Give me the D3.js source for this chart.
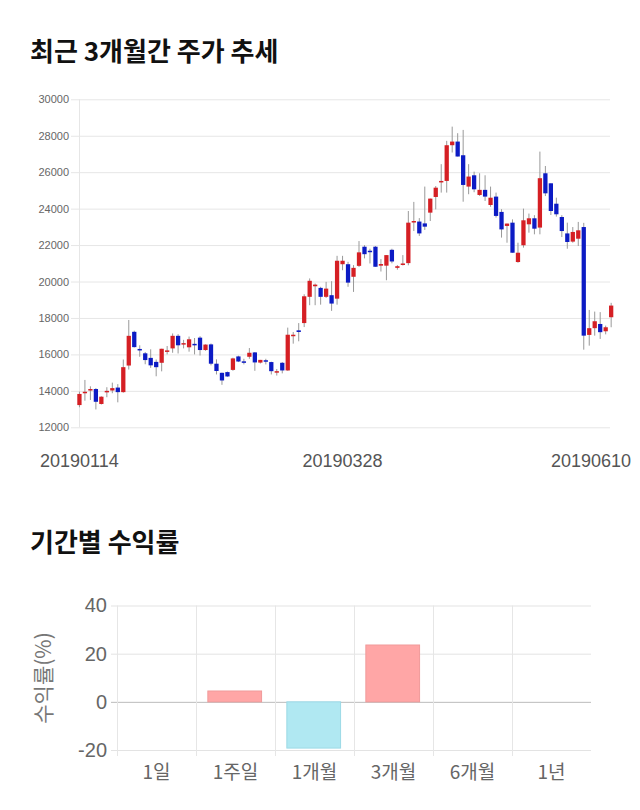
<!DOCTYPE html>
<html>
<head>
<meta charset="utf-8">
<script src="https://cdn.jsdelivr.net/npm/d3@7"></script>
<style>
body { margin: 0; background: #fff; }
.title { font-family: "Noto Sans CJK KR", sans-serif; font-weight: bold; font-size: 26px; fill: #111; }
</style>
</head>
<body>
<script>
// daily candles, index 0 = 20190114
var opens  = [13220,13900,14080,14100,13280,13980,14020,14180,13930,15390,17240,16300,16060,15810,15590,15540,16200,16330,17020,16600,
              16390,16580,16920,16240,16550,15490,14990,15030,15150,15890,15620,15870,16110,15550,15680,15580,15030,15540,15120,17060,
              17320,17720,19160,19740,19650,19160,19250,19060,20950,20950,20260,20860,21910,21690,21910,20870,20870,21740,20750,20960,
              21010,23280,23290,23190,23780,24640,25480,25520,27480,27680,26930,25210,25830,24750,25030,24200,24660,23820,23050,23230,
              21070,21990,23140,23470,22960,25940,25390,24270,23540,22640,22190,22350,22990,17070,17440,17670,17270,18040];
var highs  = [13960,14600,14250,14150,13700,14200,14450,14370,15720,17890,17300,16500,16130,16280,15720,16310,16460,17150,17110,16800,
              16980,16900,17000,16550,16600,15730,15000,15060,15820,15930,15760,16350,16130,15700,15760,15600,15200,15580,17470,17230,
              17720,19300,20170,19890,19710,19980,20020,21410,21410,21080,20900,22220,22000,21800,21950,21230,21450,21800,20900,21450,
              23870,24370,23480,25210,24550,25240,26440,27720,28500,28140,28320,26440,26030,25940,25830,25210,24880,23970,23180,23410,
              22130,24000,23730,23640,27130,26340,25390,24600,23640,23230,22990,23270,23220,18440,18350,18320,17580,18830];
var lows   = [13100,13460,13500,12980,13250,13650,13870,13370,13900,15170,16380,15870,15460,15260,14800,15070,16000,16090,16050,16330,
              16150,16000,15940,16200,15400,14900,14330,14770,15100,15580,15450,15760,15100,15500,15450,14900,14840,14960,15100,16590,
              16720,17500,18700,18700,18730,19100,18390,18730,20620,19710,19430,20800,21270,20990,20810,20550,20070,21000,20650,20880,
              20890,22770,22500,22830,23320,23960,24880,24880,27080,26860,24380,24790,24900,24700,24420,24100,23510,22410,22130,21580,
              21030,21860,22680,22590,22590,24690,23650,23560,22440,21800,22130,21950,16260,16480,17030,16850,17100,17490];
var closes = [13830,13950,14100,13400,13680,14000,14150,13930,15300,17020,16400,16280,15690,15400,15300,16310,16220,17020,16500,16620,
              16830,16570,16240,16540,15490,15090,14570,14790,15780,15610,15600,16090,15560,15700,15670,15080,15080,15120,17080,17080,
              17230,19190,20040,19830,19160,19610,18790,21140,21140,19940,20750,21600,21500,21670,20810,20960,21450,21100,20840,20990,
              23230,23320,22640,23010,24550,25150,25520,27480,27680,26860,25300,25760,25060,25030,24660,24600,23600,22860,23180,21580,
              21580,23360,23470,22900,25670,24840,23870,23690,22770,22170,22720,22810,17030,17440,17820,17220,17490,18680];
var priceTicks = [12000,14000,16000,18000,20000,22000,24000,26000,28000,30000];
var dateLabels = ["20190114","20190328","20190610"];
var dateIndex  = [0, 48, 97];

// period returns
var periods = ["1일","1주일","1개월","3개월","6개월","1년"];
var returns = [0, 4.5, -19.2, 23.6, 0, 0];
var returnTicks = [-20, 0, 20, 40];

var w = 640, h = 810;
var svg = d3.select("body").append("svg")
    .attr("width", w)
    .attr("height", h);

// ---------- candle chart ----------
svg.append("text").attr("class", "title")
    .attr("x", 30).attr("y", 61)
    .text("최근 3개월간 주가 추세");

var x = d3.scaleBand()
    .domain(d3.range(opens.length))
    .range([77.3, 613.3])
    .paddingInner(0.22);

var y = d3.scaleLinear()
    .domain([12000, 30000])
    .range([427.3, 99.3]);

//horizontal grid
svg.append("g")
    .attr("transform", "translate(79,0)")
    .call(d3.axisLeft(y).tickValues(priceTicks).tickSize(-531).tickPadding(10).tickFormat(d3.format("d")))
    .call(function(g){
        g.select(".domain").remove();
        g.selectAll(".tick line").attr("stroke", "#e6e6e6").attr("x1", -8);
        g.selectAll(".tick text").attr("fill", "#666").style("font-family", "Liberation Sans, Arial, sans-serif").style("font-size", "11px");
    });

//vertical axis line
svg.append("line")
    .attr("x1", 79.5).attr("x2", 79.5)
    .attr("y1", y(30000)).attr("y2", y(12000))
    .attr("stroke", "#e6e6e6");

var candles = svg.append("g").selectAll("g")
    .data(opens.map(function(o, i){
        return {i: i, o: o, h: highs[i], l: lows[i], c: closes[i]};
    }))
    .enter().append("g");

//wicks
candles.append("line")
    .attr("x1", function(d){ return x(d.i) + x.bandwidth() / 2; })
    .attr("x2", function(d){ return x(d.i) + x.bandwidth() / 2; })
    .attr("y1", function(d){ return y(d.h); })
    .attr("y2", function(d){ return y(d.l); })
    .attr("stroke", "#999")
    .attr("stroke-width", 1);

//bodies
candles.append("rect")
    .attr("x", function(d){ return x(d.i); })
    .attr("width", x.bandwidth())
    .attr("y", function(d){ return y(Math.max(d.o, d.c)); })
    .attr("height", function(d){ return Math.max(1.5, Math.abs(y(d.o) - y(d.c))); })
    .attr("fill", function(d){ return d.c >= d.o ? "#d51f24" : "#0c1bc4"; });

//date labels
svg.append("g").selectAll("text")
    .data(dateLabels)
    .enter().append("text")
    .attr("x", function(d, i){
        return Math.min(x(dateIndex[i]) + x.bandwidth() / 2, 591);
    })
    .attr("y", 467)
    .attr("text-anchor", "middle")
    .attr("fill", "#555")
    .style("font-family", "Liberation Sans, Arial, sans-serif")
    .style("font-size", "18px")
    .text(function(d){ return d; });

// ---------- return bars ----------
svg.append("text").attr("class", "title")
    .attr("x", 30).attr("y", 552)
    .text("기간별 수익률");

var bx = d3.scaleBand()
    .domain(periods)
    .range([117, 591]);

var by = d3.scaleLinear()
    .domain([-20, 40])
    .range([750, 605.5]);

//horizontal grid + labels
svg.append("g")
    .attr("transform", "translate(117,0)")
    .call(d3.axisLeft(by).tickValues(returnTicks).tickSize(-474).tickPadding(10).tickFormat(function(d){ return String(d); }))
    .call(function(g){
        g.select(".domain").remove();
        g.selectAll(".tick line")
            .attr("stroke", function(d){ return d === 0 ? "#bbb" : "#e3e3e3"; })
            .attr("x1", -6);
        g.selectAll(".tick text").attr("fill", "#666").style("font-family", "Liberation Sans, Arial, sans-serif").style("font-size", "20px");
    });

//vertical grid between periods
svg.append("g").selectAll("line")
    .data(periods)
    .enter().append("line")
    .attr("x1", function(d){ return bx(d) + 0.5; })
    .attr("x2", function(d){ return bx(d) + 0.5; })
    .attr("y1", by(40))
    .attr("y2", by(-20) + 6)
    .attr("stroke", "#e6e6e6");

svg.append("g").selectAll("rect")
    .data(returns)
    .enter().append("rect")
    .attr("x", function(d, i){ return bx(periods[i]) + bx.step() * 0.15; })
    .attr("width", bx.step() * 0.68)
    .attr("y", function(d){ return by(Math.max(0, d)); })
    .attr("height", function(d){ return Math.abs(by(d) - by(0)); })
    .attr("fill", function(d){ return d >= 0 ? "#ffa6a6" : "#b0e8f2"; })
    .attr("stroke", function(d){ return d >= 0 ? "#f09a9a" : "#9cd9e6"; })
    .attr("stroke-width", function(d){ return d === 0 ? 0 : 1; });

//period labels
svg.append("g").selectAll("text")
    .data(periods)
    .enter().append("text")
    .attr("x", function(d){ return bx(d) + bx.bandwidth() / 2; })
    .attr("y", 779)
    .attr("text-anchor", "middle")
    .attr("fill", "#666")
    .style("font-family", "Noto Sans CJK KR, sans-serif")
    .style("font-size", "19px")
    .text(function(d){ return d; });

//y axis title
svg.append("text")
    .attr("transform", "translate(51,678) rotate(-90)")
    .attr("text-anchor", "middle")
    .attr("fill", "#777")
    .style("font-family", "Noto Sans CJK KR, sans-serif")
    .style("font-size", "21px")
    .text("수익률(%)");
</script>
</body>
</html>
